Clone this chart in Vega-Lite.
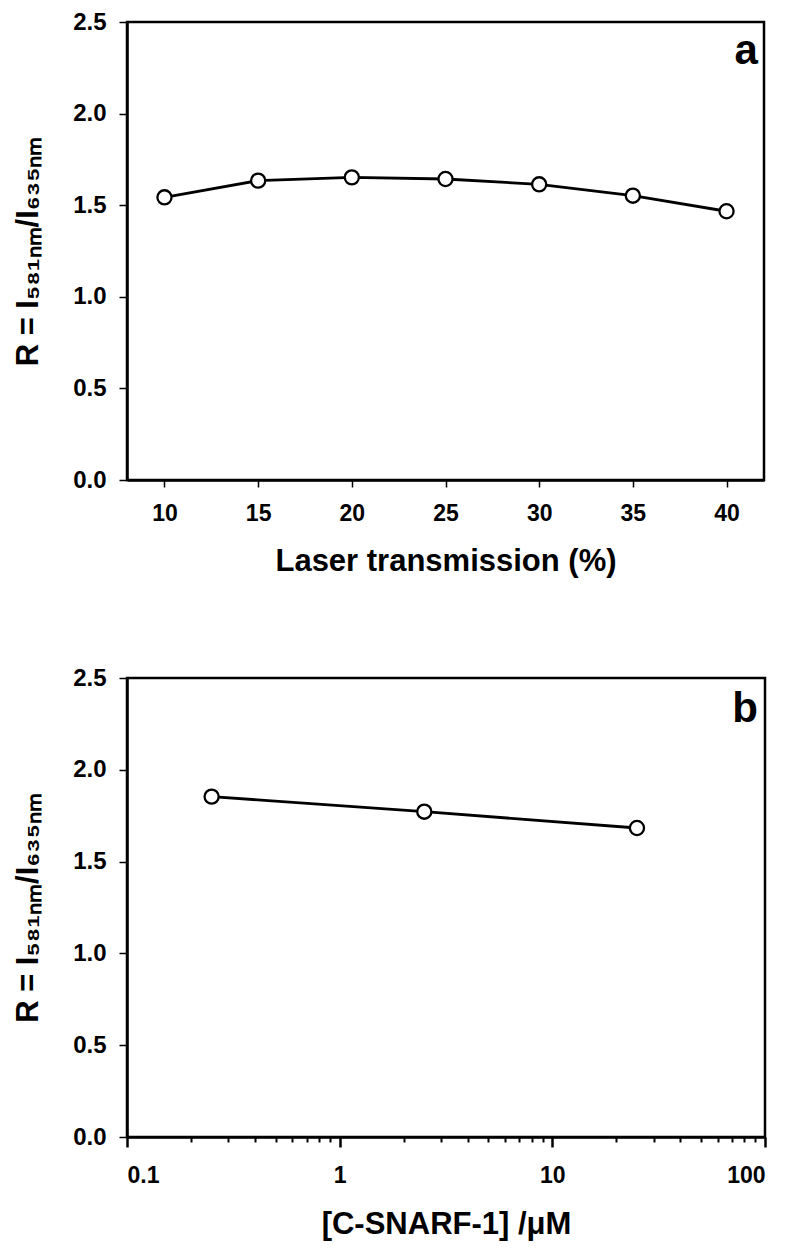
{
  "$schema": "https://vega.github.io/schema/vega-lite/v6.json",
  "background": "white",
  "padding": {"left": 11, "top": 8, "right": 5, "bottom": 0},
  "spacing": 86,
  "config": {
    "font": "Liberation Sans",
    "view": {"stroke": "black", "strokeWidth": 2.5},
    "axis": {
      "grid": false,
      "domainColor": "black",
      "domainWidth": 2.5,
      "tickColor": "black",
      "tickWidth": 1.5,
      "labelFont": "Liberation Sans",
      "labelFontWeight": "bold",
      "labelFontSize": 23,
      "labelColor": "black",
      "titleFont": "Liberation Sans",
      "titleFontWeight": "bold",
      "titleColor": "black"
    }
  },
  "datasets": {
    "a": [
      {"t": 10, "r": 1.543},
      {"t": 15, "r": 1.634},
      {"t": 20, "r": 1.652},
      {"t": 25, "r": 1.643},
      {"t": 30, "r": 1.614},
      {"t": 35, "r": 1.552},
      {"t": 40, "r": 1.467}
    ],
    "b": [
      {"c": 0.25, "r": 1.854},
      {"c": 2.5, "r": 1.772},
      {"c": 25, "r": 1.683}
    ],
    "la": [{"t": 41.67, "r": 2.27, "lab": "a"}],
    "lb": [{"c": 92.6, "r": 2.26, "lab": "b"}]
  },
  "vconcat": [
    {
      "width": 637,
      "height": 458,
      "encoding": {
        "x": {
          "field": "t", "type": "quantitative",
          "scale": {"domain": [8, 42], "nice": false, "zero": false},
          "axis": {"values": [10, 15, 20, 25, 30, 35, 40], "title": "Laser transmission (%)", "titleFontSize": 31, "titlePadding": 21, "tickSize": 7, "labelPadding": 15}
        },
        "y": {
          "field": "r", "type": "quantitative",
          "scale": {"domain": [0, 2.5], "nice": false},
          "axis": {"values": [0, 0.5, 1, 1.5, 2, 2.5], "format": ".1f", "labelFontSize": 24, "title": "R = I₅₈₁ₙₘ/I₆₃₅ₙₘ", "titleFontSize": 31, "titlePadding": 28, "tickSize": 8, "labelPadding": 13}
        }
      },
      "layer": [
        {"data": {"name": "a"}, "mark": {"type": "line", "color": "black", "strokeWidth": 2.8}},
        {"data": {"name": "a"}, "mark": {"type": "point", "shape": "circle", "filled": true, "fill": "white", "stroke": "black", "strokeWidth": 2.3, "size": 200, "opacity": 1}},
        {"data": {"name": "la"}, "mark": {"type": "text", "align": "right", "baseline": "alphabetic", "fontSize": 42, "fontWeight": "bold", "font": "Liberation Sans", "color": "black"}, "encoding": {"text": {"field": "lab"}}}
      ]
    },
    {
      "width": 638,
      "height": 459,
      "resolve": {"axis": {"x": "independent"}},
      "layer": [
        {
          "data": {"name": "b"},
          "mark": {"type": "line", "color": "black", "strokeWidth": 2.8},
          "encoding": {
            "x": {
              "field": "c", "type": "quantitative",
              "scale": {"type": "log", "domain": [0.1, 100], "nice": false},
              "axis": {"orient": "bottom", "values": [0.1, 1, 10, 100], "format": "~g", "title": "[C-SNARF-1] /μM", "titleFontSize": 31, "titlePadding": 22, "tickSize": 10, "tickWidth": 2.5, "labelPadding": 17}
            },
            "y": {
              "field": "r", "type": "quantitative",
              "scale": {"domain": [0, 2.5], "nice": false},
              "axis": {"values": [0, 0.5, 1, 1.5, 2, 2.5], "format": ".1f", "labelFontSize": 24, "title": "R = I₅₈₁ₙₘ/I₆₃₅ₙₘ", "titleFontSize": 31, "titlePadding": 28, "tickSize": 8, "labelPadding": 13}
            }
          }
        },
        {
          "data": {"name": "b"},
          "mark": {"type": "point", "shape": "circle", "filled": true, "fill": "white", "stroke": "black", "strokeWidth": 2.3, "size": 200, "opacity": 1},
          "encoding": {
            "x": {
              "field": "c", "type": "quantitative",
              "axis": {"orient": "bottom", "values": [0.2, 0.3, 0.4, 0.5, 0.6, 0.7, 0.8, 0.9, 2, 3, 4, 5, 6, 7, 8, 9, 20, 30, 40, 50, 60, 70, 80, 90], "labels": false, "title": null, "domain": false, "tickSize": 5, "tickWidth": 2}
            },
            "y": {"field": "r", "type": "quantitative"}
          }
        },
        {
          "data": {"name": "lb"},
          "mark": {"type": "text", "align": "right", "baseline": "alphabetic", "fontSize": 42, "fontWeight": "bold", "font": "Liberation Sans", "color": "black"},
          "encoding": {
            "x": {"field": "c", "type": "quantitative", "axis": null},
            "y": {"field": "r", "type": "quantitative"},
            "text": {"field": "lab"}
          }
        }
      ]
    }
  ]
}
